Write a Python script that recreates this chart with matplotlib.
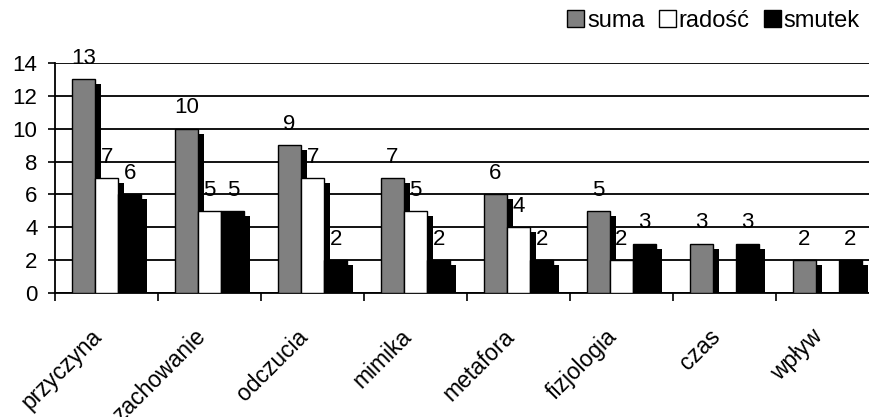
import matplotlib
matplotlib.use("Agg")
import matplotlib.pyplot as plt
import numpy as np

categories = ["przyczyna", "zachowanie", "odczucia", "mimika", "metafora",
              "fizjologia", "czas", "wpływ"]
suma = [13, 10, 9, 7, 6, 5, 3, 2]
radosc = [7, 5, 7, 5, 4, 2, 0, 0]
smutek = [6, 5, 2, 2, 2, 3, 3, 2]
series_names = ["suma", "radość", "smutek"]
series_colors = ["#808080", "#ffffff", "#000000"]
yticks = [0, 2, 4, 6, 8, 10, 12, 14]

plt.rcParams['font.family'] = ['Liberation Sans', 'DejaVu Sans']

fig = plt.figure(figsize=(8.7, 4.17), dpi=100)
ax = fig.add_axes([55.5 / 870, (417 - 293) / 417, 823.5 / 870, 230 / 417])

n = len(categories)
x0 = np.arange(n)
bw = 0.225
start = 0.16
sdx = 0.058
sdy = 0.3

series = [suma, radosc, smutek]
handles = []
for k, (vals, col, name) in enumerate(zip(series, series_colors, series_names)):
    left = x0 + start + k * bw
    vals = np.array(vals, dtype=float)
    sh = np.clip(vals - sdy, 0, None)
    sh[vals == 0] = 0
    ax.bar(left + sdx, sh, width=bw, align='edge', color='black',
           edgecolor='none', zorder=2)
    b = ax.bar(left, vals, width=bw, align='edge', color=col,
               edgecolor='black', linewidth=1.0, zorder=3, label=name)
    handles.append(b)
    for xi, v in zip(left + bw / 2, vals):
        if v > 0:
            ax.annotate(f"{int(v)}", (xi, v), xytext=(0, 15), textcoords='offset points',
                        ha='center', va='center', fontsize=16, zorder=5,
                        annotation_clip=False)

ax.set_xlim(0, n)
ax.set_ylim(0, 14)
ax.set_yticks(yticks)
ax.set_yticklabels([str(t) for t in yticks], fontsize=16)
ax.yaxis.grid(True, color='black', linewidth=1.3, zorder=1)
ax.set_axisbelow(True)

ax.set_xticks(np.arange(n + 1))
ax.set_xticklabels([])
ax.set_xticks(x0 + 0.5, minor=True)
ax.set_xticklabels(categories, minor=True, rotation=45, ha='right',
                   va='top', fontsize=16.5)
ax.tick_params(axis='x', which='minor', length=0, pad=23)
ax.tick_params(axis='x', which='major', length=5.5, width=1.2, direction='out', color='black')
ax.tick_params(axis='y', which='major', length=5, width=1.2, direction='out', pad=8)

for s in ['top', 'right']:
    ax.spines[s].set_visible(False)
for s in ['left', 'bottom']:
    ax.spines[s].set_linewidth(1.3)
    ax.spines[s].set_color('black')

leg = fig.legend(handles=handles, labels=series_names, loc='upper right',
                 bbox_to_anchor=(860 / 870, 1 - 10 / 417), ncol=3, frameon=False,
                 fontsize=17, handlelength=0.72, handleheight=0.72,
                 handletextpad=0.12, columnspacing=0.6, borderpad=0,
                 borderaxespad=0)

fig.savefig("out.png", dpi=100)
